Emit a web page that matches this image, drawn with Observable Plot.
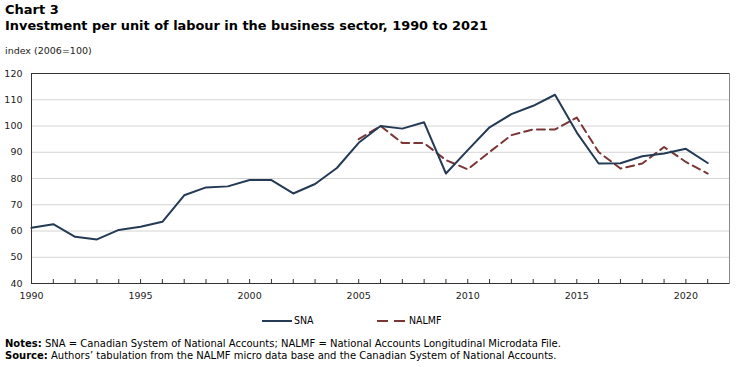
<!DOCTYPE html>
<html>
<head>
<meta charset="utf-8">
<script src="https://cdn.jsdelivr.net/npm/d3@7"></script>
<script src="https://cdn.jsdelivr.net/npm/@observablehq/plot@0.6"></script>
<style>
  html, body { margin: 0; padding: 0; background: #fff; }
  body { width: 749px; height: 367px; position: relative; overflow: hidden; font-family: "DejaVu Sans", Verdana, sans-serif; color: #000; }
  .t1 { position: absolute; left: 5px; top: 2px; font-weight: bold; font-size: 13px; }
  .t2 { position: absolute; left: 5px; top: 18px; font-weight: bold; font-size: 12.9px; }
  .unit { position: absolute; left: 5px; top: 45px; font-size: 9.5px; color: #222; }
  #chart { position: absolute; left: 0; top: 60px; }
  .legend { position: absolute; top: 314px; font-size: 10.5px; font-family: "DejaVu Sans Condensed", "DejaVu Sans", sans-serif; }
  .legend svg { vertical-align: middle; }
  .notes { position: absolute; left: 5px; font-size: 10px; font-family: "DejaVu Sans", Verdana, sans-serif; }
</style>
</head>
<body>
<div class="t1">Chart 3</div>
<div class="t2">Investment per unit of labour in the business sector, 1990 to 2021</div>
<div class="unit">index (2006=100)</div>
<div id="chart"></div>
<div class="legend" id="leg1" style="left:262px"></div>
<div class="legend" id="leg2" style="left:377px"></div>
<div class="notes" style="top:338px"><b>Notes:</b> SNA = Canadian System of National Accounts; NALMF = National Accounts Longitudinal Microdata File.</div>
<div class="notes" style="top:350px"><b>Source:</b> Authors’ tabulation from the NALMF micro data base and the Canadian System of National Accounts.</div>
<script>
const snaYears = d3.range(1990, 2022);
const snaValues = [61.2, 62.6, 57.8, 56.8, 60.4, 61.6, 63.5, 73.6, 76.6, 77.0,
  79.4, 79.4, 74.3, 77.9, 84.0, 93.6, 100.0, 99.0, 101.4, 81.9,
  90.8, 99.5, 104.5, 107.7, 111.9, 97.5, 85.7, 85.8, 88.5, 89.5,
  91.3, 85.9];
const nalmfYears = d3.range(2005, 2022);
const nalmfValues = [95.0, 100.0, 93.5, 93.5, 87.0, 83.5, 90.1, 96.5, 98.7, 98.7,
  103.2, 90.1, 83.8, 85.7, 92.0, 86.3, 81.9];
const yTicks = [40, 50, 60, 70, 80, 90, 100, 110, 120];
const xLabelTicks = [1990, 1995, 2000, 2005, 2010, 2015, 2020];
const xMinorTicks = d3.range(1990, 2022);
const seriesNames = ["SNA", "NALMF"];
const snaColor = "#243a55";
const nalmfColor = "#7a3535";

const sna = snaYears.map((y, i) => ({year: y, value: snaValues[i]}));
const nalmf = nalmfYears.map((y, i) => ({year: y, value: nalmfValues[i]}));

const chart = Plot.plot({
  width: 749,
  height: 243,
  marginLeft: 31,
  marginRight: 20,
  marginTop: 13,
  marginBottom: 20,
  style: {fontFamily: "DejaVu Sans, Verdana, sans-serif", fontSize: "9.5px", color: "#222", background: "transparent"},
  x: {domain: [1990, 2022]},
  y: {domain: [40, 120]},
  marks: [
    Plot.gridY(yTicks.filter(d => d > 40 && d < 120), {stroke: "#d4d4d4", strokeOpacity: 1, strokeWidth: 1}),
    Plot.axisY({ticks: yTicks, tickSize: 0, tickPadding: 9, label: null, tickFormat: d => d}),
    Plot.axisX({ticks: xMinorTicks, tickSize: -4, text: null, label: null, stroke: "#333"}),
    Plot.axisX({ticks: xLabelTicks, tickSize: 0, tickPadding: 9, label: null, tickFormat: d => String(d)}),
    Plot.lineY(nalmf, {x: "year", y: "value", stroke: nalmfColor, strokeWidth: 2, strokeDasharray: "8,5"}),
    Plot.lineY(sna, {x: "year", y: "value", stroke: snaColor, strokeWidth: 2}),
    Plot.frame({anchor: "left", stroke: "#333"}),
    Plot.frame({anchor: "bottom", stroke: "#333"}),
    Plot.frame({anchor: "top", stroke: "#333"}),
    Plot.frame({anchor: "right", stroke: "#888"})
  ]
});
document.getElementById("chart").appendChild(chart);

function legendItem(el, name, color, dash) {
  el.innerHTML = `<svg width="32" height="10"><line x1="0" y1="5" x2="30" y2="5" stroke="${color}" stroke-width="2" ${dash ? `stroke-dasharray="${dash}"` : ""}/></svg><span>${name}</span>`;
}
legendItem(document.getElementById("leg1"), seriesNames[0], snaColor, null);
legendItem(document.getElementById("leg2"), seriesNames[1], nalmfColor, "11,6");
</script>
</body>
</html>
